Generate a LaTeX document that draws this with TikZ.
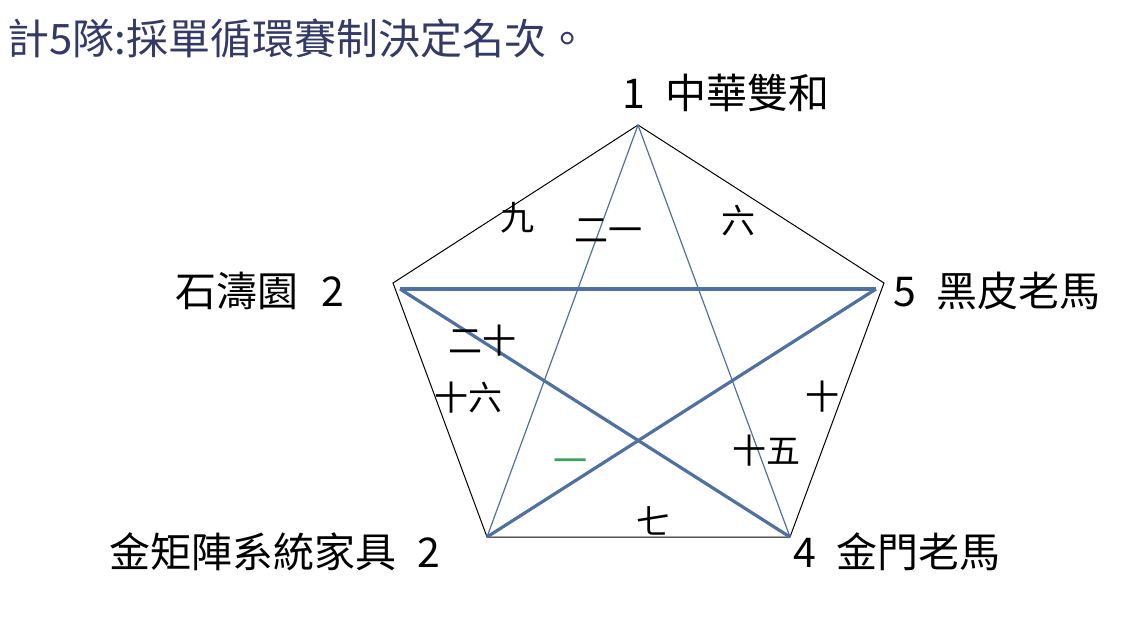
\documentclass[tikz,border=0pt]{standalone}
\usepackage{fontspec}
\setmainfont{Noto Sans CJK TC}
\usetikzlibrary{positioning}
\definecolor{linkblue}{RGB}{79,112,163}
\definecolor{titleblue}{RGB}{52,58,104}
\definecolor{onegreen}{RGB}{60,160,90}

\begin{document}
\begin{tikzpicture}[x=0.5pt, y=-0.5pt,
  team/.style={font=\fontsize{20.5pt}{24pt}\selectfont, inner sep=0pt},
  game/.style={font=\fontsize{17pt}{20pt}\selectfont, inner sep=0pt},
  side/.style={black, line width=0.5pt},
  thin link/.style={linkblue, line width=0.6pt},
  thick link/.style={linkblue, line width=1.6pt}]

  \useasboundingbox (0,0) rectangle (1126,623);

  \node[anchor=west, inner sep=0pt, text=titleblue,
        font=\fontsize{21pt}{24pt}\selectfont] (title) at (7,38) {計5隊:採單循環賽制決定名次。};

  \coordinate (p1) at (638,125);
  \coordinate (p2) at (393,283);
  \coordinate (p5) at (884,283);
  \coordinate (p4) at (790,537);
  \coordinate (p3) at (487,537);
  \coordinate (q2) at (400,289);
  \coordinate (q5) at (876,289);

  \draw[side] (p1) -- (p5) -- (p4) -- (p3) -- (p2) -- cycle;
  \draw[thin link] (p1) -- (p3);
  \draw[thin link] (p1) -- (p4);
  \draw[thick link] (q2) -- (q5);
  \draw[thick link] (q2) -- (p4);
  \draw[thick link] (q5) -- (p3);

  \node[team] (t1) at (726,93) {1\hspace{0.5em}中華雙和};
  \node[team] (t2) at (260,291) {石濤園\hspace{0.55em}2};
  \node[team] (t5) at (997,291) {5\hspace{0.5em}黑皮老馬};
  \node[team] (t3) at (275,552) {金矩陣系統家具\hspace{0.5em}2};
  \node[team] (t4) at (897,552) {4\hspace{0.5em}金門老馬};

  \node[game] (g12) at (517,218) {九};
  \node[game] (g13) at (608,231) {二一};
  \node[game] (g15) at (738,221) {六};
  \node[game] (g25) at (482,341) {二十};
  \node[game] (g23) at (468,398) {十六};
  \node[game] (g45) at (822,397) {十};
  \node[game] (g14) at (766,451) {十五};
  \node[game, text=onegreen] (g35) at (570,466) {一};
  \node[game] (g34) at (653,521) {七};
\end{tikzpicture}
\end{document}
